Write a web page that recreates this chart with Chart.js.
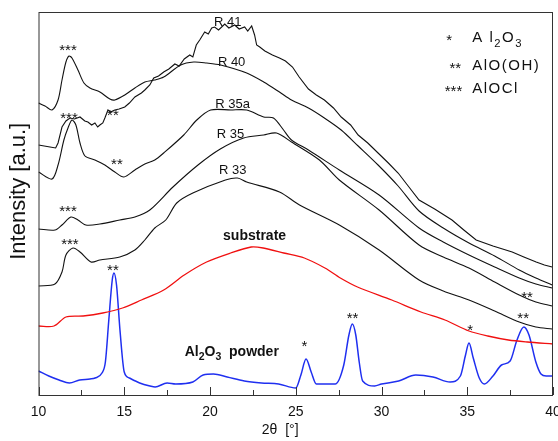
<!DOCTYPE html>
<html lang="en">
<head>
    <meta charset="UTF-8">
    <title>XRD patterns</title>
    <script src="https://cdn.jsdelivr.net/npm/chart.js@4.4.0/dist/chart.umd.min.js"></script>
    <style>
        body { margin: 0; background: #fff; }
        #box { width: 558px; height: 441px; }
    </style>
</head>
<body>
    <div id="box"><canvas id="xrd"></canvas></div>

    <script>
        // 2theta ticks
        const xMajor = [10, 15, 20, 25, 30, 35, 40];
        const xMinor = [12.5, 17.5, 22.5, 27.5, 32.5, 37.5];

        // [2theta, intensity a.u.]
        const r41 = [
            [10, 250], [10.67, 248], [11.0, 247], [11.14, 252], [11.37, 268], [11.6, 274], [11.83, 277], [12.1, 276],
            [12.42, 278], [12.7, 274], [12.88, 273], [13.1, 270], [13.29, 272], [13.45, 268], [13.58, 270], [13.75, 272],
            [13.87, 277], [14.05, 285], [14.2, 283], [14.45, 285], [14.7, 286], [15.03, 288], [15.3, 292], [15.62, 298],
            [16.0, 302], [16.2, 305], [16.49, 310], [16.72, 317], [17.0, 319], [17.3, 323], [17.6, 326], [17.95, 331],
            [18.2, 329], [18.5, 336], [18.82, 340], [19.0, 338], [19.2, 350], [19.4, 355], [19.69, 363], [19.9, 361],
            [20.1, 367], [20.27, 368], [20.5, 365], [20.86, 371], [21.1, 367], [21.44, 370], [21.7, 366], [22.02, 368],
            [22.2, 364], [22.43, 369], [22.6, 360], [22.72, 350], [22.9, 348], [23.2, 344], [23.64, 340], [24.05, 337],
            [24.4, 334], [24.81, 328], [25.2, 318], [25.74, 306], [26.2, 300], [26.67, 295], [27.2, 287], [27.65, 278],
            [28.2, 270], [28.64, 260], [29.2, 252], [29.8, 242], [30.4, 232], [30.97, 222], [31.6, 208], [32.19, 195],
            [33.1, 186], [34.11, 175], [34.8, 165], [35.52, 155], [36.5, 149], [37.62, 143], [38.3, 138], [39.02, 133],
            [39.5, 130], [39.95, 128]
        ];
        const r40 = [
            [10, 292], [10.38, 289], [10.79, 285], [11.14, 295], [11.37, 315], [11.6, 333], [11.78, 339], [11.95, 337],
            [12.3, 325], [12.65, 312], [13.0, 307], [13.58, 303], [14.16, 296], [14.45, 295], [15.03, 300], [15.62, 307],
            [16.2, 313], [16.78, 315], [17.3, 318], [18.29, 330], [19.05, 333], [19.81, 332], [20.62, 330], [22.14, 322],
            [23.13, 313], [24.05, 303], [24.75, 295], [25.74, 287], [26.67, 277], [27.65, 265], [28.64, 249], [29.8, 230],
            [30.97, 209], [32.19, 184], [33.6, 167], [35.1, 152], [36.6, 139], [38.03, 125], [39.0, 117], [39.95, 110]
        ];
        const r35a = [
            [10, 223], [10.79, 216], [11.14, 230], [11.48, 255], [11.72, 267], [11.95, 275], [12.18, 270], [12.42, 252],
            [12.71, 239], [13.29, 235], [13.87, 230], [14.45, 223], [14.98, 218], [15.62, 225], [16.2, 231], [16.78, 235],
            [17.3, 242], [18.47, 260], [19.23, 275], [20.04, 285], [21.21, 285], [22.14, 285], [23.13, 278], [23.7, 277],
            [24.29, 265], [24.75, 255], [25.74, 245], [27.54, 225], [29.86, 200], [32.19, 167], [33.6, 153], [35.1, 140],
            [36.6, 128], [38.03, 117], [39.0, 111], [39.95, 107]
        ];
        const r35 = [
            [10, 166], [10.96, 165], [11.37, 170], [11.89, 178], [12.3, 175], [12.76, 170], [13.58, 171], [14.74, 175],
            [15.62, 178], [16.49, 185], [17.84, 208], [19.3, 230], [20.6, 246], [21.96, 257], [23.13, 260], [23.88, 262],
            [24.75, 253], [26.38, 235], [27.54, 215], [29.86, 185], [32.19, 150], [33.6, 138], [35.1, 127], [36.6, 113],
            [38.03, 100], [39.0, 93], [39.95, 89]
        ];
        const r33 = [
            [10, 109], [10.96, 111], [11.37, 123], [11.6, 140], [12.01, 147], [12.42, 143], [13.06, 133], [13.58, 135],
            [14.74, 138], [15.62, 145], [16.2, 155], [16.78, 167], [17.42, 175], [18.06, 192], [19.0, 202], [20.9, 215],
            [21.6, 217], [22.14, 213], [24.05, 203], [25.22, 190], [27.54, 170], [29.86, 145], [32.19, 115], [33.6, 104],
            [35.1, 95], [36.6, 84], [38.03, 73], [39.0, 68], [39.95, 66]
        ];
        const substrate = [
            [10, 69], [10.9, 69], [11.6, 78], [12.6, 79], [13.75, 82], [14.9, 87], [16.0, 95], [17.3, 105], [18.5, 120],
            [19.8, 133], [21.2, 142], [22.4, 148], [23.1, 147], [24.3, 142], [25.5, 137], [26.7, 127], [27.6, 117],
            [28.6, 108], [30.6, 95], [32.3, 83], [33.7, 75], [35.1, 64], [36.2, 59], [37.4, 55], [38.5, 53], [40, 51]
        ];
        const powder = [
            [10, 24], [10.6, 19], [11.2, 15], [11.8, 12], [12.4, 15], [13.0, 16], [13.3, 17], [13.7, 22], [13.9, 33],
            [14.1, 75], [14.3, 115], [14.4, 122], [14.55, 110], [14.75, 65], [15.0, 23], [15.3, 17], [15.9, 12],
            [16.5, 9], [16.8, 8], [17.5, 12], [18.0, 11], [19.0, 13], [19.6, 20], [20.2, 21], [21.0, 18], [22.0, 14],
            [23.0, 12], [24.0, 11], [25.0, 7], [25.3, 20], [25.6, 36], [25.9, 23], [26.2, 11], [27.3, 11], [27.8, 30],
            [28.1, 60], [28.3, 71], [28.5, 60], [28.7, 33], [28.9, 14], [29.6, 9], [30.0, 11], [31.0, 14], [32.0, 20],
            [33.0, 18], [34.0, 13], [34.6, 19], [34.9, 40], [35.1, 52], [35.35, 37], [35.7, 17], [36.0, 11], [36.5, 19],
            [37.0, 30], [37.5, 34], [37.9, 55], [38.3, 68], [38.6, 60], [39.0, 33], [39.3, 21], [39.6, 19], [40, 19]
        ];

        // peak marks and curve names, in data units
        const starMarks = [
            ['***', 11.72, 348], ['***', 11.78, 280], ['**', 14.34, 283], ['**', 14.57, 234],
            ['***', 11.72, 187], ['***', 11.83, 154], ['**', 14.34, 128], ['*', 25.51, 52],
            ['**', 28.31, 80], ['*', 35.17, 68], ['**', 38.26, 80], ['**', 38.49, 101]
        ];
        const curveNames = [
            ['R 41', 21.03, 373], ['R 40', 21.26, 333], ['R 35a', 21.32, 291], ['R 35', 21.2, 261], ['R 33', 21.32, 225]
        ];

        const FONT = '"Liberation Sans", Arial, sans-serif';
        const pts = arr => arr.map(p => ({ x: p[0], y: p[1] }));

        const black = (label, arr, tension) => ({
            label: label,
            data: pts(arr),
            borderColor: '#111',
            borderWidth: 1.1,
            pointRadius: 0,
            tension: tension,
            fill: false
        });

        // text with subscripts: parts = [[text, isSub], ...]
        function richText(ctx, parts, x, y, size, bold, align) {
            const f = s => (bold ? 'bold ' : '') + s + 'px ' + FONT;
            let w = 0;
            parts.forEach(p => { ctx.font = f(p[1] ? size * 0.75 : size); w += ctx.measureText(p[0]).width; });
            let cx = align === 'left' ? x : x - w / 2;
            ctx.textAlign = 'left';
            ctx.textBaseline = 'middle';
            parts.forEach(p => {
                ctx.font = f(p[1] ? size * 0.75 : size);
                ctx.fillText(p[0], cx, p[1] ? y + size * 0.4 : y);
                cx += ctx.measureText(p[0]).width;
            });
        }

        const extras = {
            id: 'extras',
            afterDatasetsDraw(chart) {
                const { ctx, chartArea: a, scales: { x, y } } = chart;
                ctx.save();

                // frame
                ctx.strokeStyle = '#333';
                ctx.lineWidth = 1;
                ctx.strokeRect(a.left + 0.5, a.top + 0.5, a.right - a.left - 1, a.bottom - a.top);

                // ticks pointing inward
                ctx.beginPath();
                xMajor.forEach(v => { const px = Math.round(x.getPixelForValue(v)) + 0.5; ctx.moveTo(px, a.bottom); ctx.lineTo(px, a.bottom - 8); });
                xMinor.forEach(v => { const px = Math.round(x.getPixelForValue(v)) + 0.5; ctx.moveTo(px, a.bottom); ctx.lineTo(px, a.bottom - 5); });
                ctx.stroke();

                ctx.fillStyle = '#111';
                ctx.textAlign = 'center';
                ctx.textBaseline = 'middle';
                ctx.font = '15px ' + FONT;
                starMarks.forEach(m => ctx.fillText(m[0], x.getPixelForValue(m[1]), y.getPixelForValue(m[2]) + 4));
                ctx.font = '13px ' + FONT;
                curveNames.forEach(m => ctx.fillText(m[0], x.getPixelForValue(m[1]), y.getPixelForValue(m[2])));

                richText(ctx, [['substrate', 0]], x.getPixelForValue(22.6), y.getPixelForValue(159), 14, true, 'center');
                richText(ctx, [['Al', 0], ['2', 1], ['O', 0], ['3', 1], ['  powder', 0]],
                    x.getPixelForValue(21.27), y.getPixelForValue(43), 14, true, 'center');

                // legend of the marks
                ctx.font = '15px ' + FONT;
                ctx.textAlign = 'center';
                ctx.fillText('*', x.getPixelForValue(33.95), y.getPixelForValue(358) + 4);
                ctx.fillText('**', x.getPixelForValue(34.3), y.getPixelForValue(330) + 4);
                ctx.fillText('***', x.getPixelForValue(34.2), y.getPixelForValue(307) + 4);
                ctx.letterSpacing = '1.5px';
                richText(ctx, [['A l', 0], ['2', 1], ['O', 0], ['3', 1]], x.getPixelForValue(35.29), y.getPixelForValue(357), 15, false, 'left');
                richText(ctx, [['AlO(OH)', 0]], x.getPixelForValue(35.29), y.getPixelForValue(329), 15, false, 'left');
                richText(ctx, [['AlOCl', 0]], x.getPixelForValue(35.29), y.getPixelForValue(306), 15, false, 'left');
                ctx.restore();
            }
        };

        new Chart(document.getElementById('xrd'), {
            type: 'line',
            data: {
                datasets: [
                    black('R 41', r41, 0),
                    black('R 40', r40, 0.3),
                    black('R 35a', r35a, 0.3),
                    black('R 35', r35, 0.3),
                    black('R 33', r33, 0.3),
                    {
                        label: 'substrate',
                        data: pts(substrate),
                        borderColor: '#f01010',
                        borderWidth: 1.3,
                        pointRadius: 0,
                        tension: 0.3
                    },
                    {
                        label: 'Al2O3 powder',
                        data: pts(powder),
                        borderColor: '#1f2ff0',
                        borderWidth: 1.5,
                        pointRadius: 0,
                        cubicInterpolationMode: 'monotone'
                    }
                ]
            },
            options: {
                responsive: true,
                maintainAspectRatio: false,
                animation: false,
                layout: { padding: { top: 12, right: 5, left: 0, bottom: 0 } },
                scales: {
                    x: {
                        type: 'linear',
                        min: 10,
                        max: 40,
                        afterBuildTicks: axis => { axis.ticks = xMajor.map(v => ({ value: v })); },
                        afterFit: axis => { axis.height = 46; axis.paddingLeft = 0; axis.paddingRight = 0; },
                        grid: { display: false },
                        border: { display: false },
                        ticks: { color: '#111', font: { family: FONT, size: 14 }, padding: 1 },
                        title: {
                            display: true,
                            text: '2θ  [°]        ',
                            color: '#111',
                            font: { family: FONT, size: 14 },
                            padding: { top: 2, bottom: 2 }
                        }
                    },
                    y: {
                        min: 0,
                        max: 383,
                        afterFit: axis => { axis.width = 38.5; },
                        grid: { display: false },
                        border: { display: false },
                        ticks: { display: false },
                        title: {
                            display: true,
                            text: '    Intensity [a.u.]',
                            color: '#111',
                            font: { family: FONT, size: 22 },
                            padding: { top: 6, bottom: 0 }
                        }
                    }
                },
                plugins: {
                    legend: { display: false },
                    tooltip: { enabled: false }
                }
            },
            plugins: [extras]
        });
    </script>
</body>
</html>
